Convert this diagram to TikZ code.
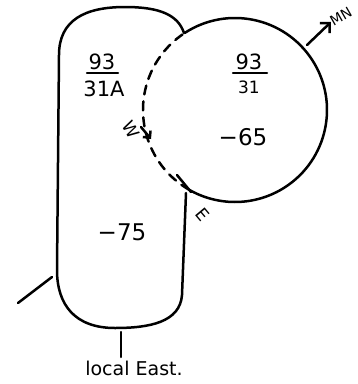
\documentclass[tikz,border=0pt]{standalone}
\usepackage{fontspec}
\setmainfont{DejaVu Sans}
\usetikzlibrary{arrows.meta}
\tikzset{
  ink/.style={line width=2.5pt, line cap=round, line join=round},
  lbl/.style={inner sep=0pt, font=\fontsize{21}{21}\selectfont},
  big/.style={inner sep=0pt, font=\fontsize{23}{23}\selectfont},
  small/.style={inner sep=0pt, font=\fontsize{17}{17}\selectfont},
  tiny/.style={inner sep=0pt, font=\fontsize{14}{14}\selectfont}
}
\begin{document}
\begin{tikzpicture}[x=1pt,y=-1pt]
\useasboundingbox (0,0) rectangle (358,384);
\coordinate (C) at (235,110);
% circle (solid part)
\draw[ink] (C) ++(-123:92) arc[start angle=-123,end angle=120,radius=92];
% dashed part
\draw[ink, dash pattern=on 9pt off 7pt] (C) ++(120:92) arc[start angle=120,end angle=237,radius=92];
\draw[ink] (177,175) -- (191,192);
% left shape
\draw[ink] (184,33) .. controls (178,15) and (160,7) .. (125,7)
  .. controls (85,7) and (59,20) .. (59,55)
  -- (57,270)
  .. controls (57,305) and (75,328) .. (115,328)
  .. controls (150,328) and (180,322) .. (182,295)
  -- (186,193);
% ticks
\coordinate (t1a) at (52,277); \coordinate (t1b) at (18,303);
\draw[ink] (t1a) -- (t1b);
\coordinate (t2a) at (121,332); \coordinate (t2b) at (121,357);
\draw[ink] (t2a) -- (t2b);
% labels
\node[lbl] (a93) at (102,62) {93};
\draw[ink] (87,73) -- (118,73);
\node[lbl] (a31) at (104,89) {31A};
\node[lbl] (b93) at (249,62) {93};
\draw[ink] (233,73) -- (267,73);
\node[small] (b31) at (249,87) {31};
\node[big] (m65) at (243,137) {−65};
\node[big] (m75) at (122,232) {−75};
\node[small, rotate=-50] (E) at (203,215) {E};
\node[small, rotate=-60] (W) at (131,130) {W};
\coordinate (wa) at (141,127); \coordinate (wb) at (151,139);
\draw[ink,-{Straight Barb[length=5pt]}] (wa) -- (wb);
\node[tiny, rotate=30, anchor=west] (MN) at (331,22) {MN};
\coordinate (mna) at (307,45);
\draw[ink,-{Straight Barb[length=7pt]}] (mna) -- (MN.west);
\node[inner sep=0pt, font=\fontsize{19}{19}\selectfont] (le) at (134,368) {local East.};
\end{tikzpicture}
\end{document}
